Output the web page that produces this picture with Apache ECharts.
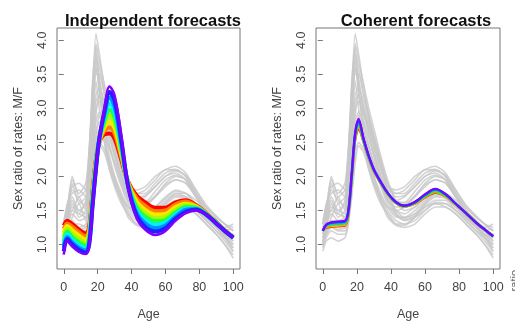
<!DOCTYPE html>
<html>
<head>
<meta charset="utf-8">
<script src="https://cdn.jsdelivr.net/npm/echarts@6/dist/echarts.min.js"></script>
<style>
  html, body { margin: 0; padding: 0; background: #fff; }
  #chart { width: 515px; height: 326px; }
</style>
</head>
<body>
<div id="chart"></div>
<script>
const ages = [0, 2, 5, 9, 13, 15, 17, 19, 21, 24, 27, 30, 34, 38, 43, 48, 54, 60, 66, 72, 78, 84, 90, 95, 100];
const xTicks = [0, 20, 40, 60, 80, 100];
const yTicks = [1, 1.5, 2, 2.5, 3, 3.5, 4];

// observed sex ratios (grey), same in both panels
const grayLines = [
  [1.2, 1.4, 1.7, 1.5, 1.6, 2.2, 3.3, 4.1, 3.8, 3.3, 2.9, 2.6, 2.2, 1.8, 1.5, 1.4, 1.45, 1.55, 1.6, 1.55, 1.45, 1.3, 1.15, 1.0, 0.8],
  [1.1, 1.3, 1.9, 1.6, 1.7, 2.3, 3.2, 3.8, 3.6, 3.2, 2.85, 2.5, 2.1, 1.75, 1.45, 1.35, 1.4, 1.5, 1.62, 1.6, 1.5, 1.35, 1.2, 1.05, 0.9],
  [1.25, 1.5, 2.0, 1.7, 1.8, 2.4, 3.1, 3.6, 3.4, 3.0, 2.7, 2.4, 2.0, 1.7, 1.5, 1.45, 1.55, 1.7, 1.8, 1.75, 1.6, 1.45, 1.3, 1.15, 1.0],
  [1.0, 1.25, 1.6, 1.4, 1.5, 2.0, 2.9, 3.5, 3.5, 3.2, 2.9, 2.6, 2.25, 1.9, 1.65, 1.6, 1.7, 1.85, 1.95, 1.9, 1.7, 1.5, 1.35, 1.2, 1.05],
  [1.3, 1.45, 1.5, 1.7, 1.5, 1.9, 2.6, 3.2, 3.3, 3.1, 2.8, 2.55, 2.2, 1.9, 1.75, 1.75, 1.9, 2.05, 2.1, 2.0, 1.75, 1.5, 1.3, 1.2, 1.1],
  [1.15, 1.3, 1.45, 1.35, 1.4, 1.7, 2.4, 3.0, 3.1, 2.9, 2.7, 2.45, 2.1, 1.85, 1.8, 1.85, 2.0, 2.1, 2.15, 2.05, 1.8, 1.55, 1.4, 1.3, 1.2],
  [1.05, 1.2, 1.35, 1.25, 1.3, 1.6, 2.2, 2.8, 2.95, 2.8, 2.55, 2.3, 2.0, 1.8, 1.75, 1.8, 1.95, 2.1, 2.1, 2.0, 1.75, 1.55, 1.4, 1.3, 1.25],
  [1.2, 1.25, 1.3, 1.3, 1.25, 1.5, 2.0, 2.5, 2.7, 2.6, 2.4, 2.2, 1.9, 1.7, 1.65, 1.7, 1.85, 2.0, 2.05, 1.95, 1.7, 1.5, 1.35, 1.25, 1.3],
  [0.95, 1.1, 1.2, 1.15, 1.15, 1.35, 1.8, 2.3, 2.5, 2.4, 2.2, 2.0, 1.75, 1.55, 1.4, 1.4, 1.5, 1.65, 1.75, 1.7, 1.55, 1.4, 1.25, 1.15, 1.1],
  [1.1, 1.15, 1.25, 1.2, 1.2, 1.4, 1.9, 2.6, 2.9, 2.5, 2.1, 1.85, 1.6, 1.45, 1.3, 1.28, 1.4, 1.55, 1.65, 1.65, 1.5, 1.35, 1.2, 1.1, 1.0],
  [1.3, 1.6, 1.75, 1.8, 1.7, 2.1, 2.9, 3.6, 3.3, 2.7, 2.3, 2.0, 1.7, 1.5, 1.35, 1.3, 1.35, 1.5, 1.6, 1.6, 1.5, 1.38, 1.25, 1.15, 1.05],
  [1.0, 1.35, 1.55, 1.5, 1.45, 1.8, 2.7, 3.4, 3.0, 2.5, 2.2, 1.9, 1.65, 1.4, 1.28, 1.25, 1.3, 1.45, 1.55, 1.55, 1.45, 1.3, 1.15, 1.0, 0.85],
  [1.35, 1.55, 1.85, 1.9, 1.8, 2.3, 3.4, 3.9, 3.3, 2.6, 2.2, 1.95, 1.7, 1.55, 1.5, 1.55, 1.7, 1.9, 2.0, 1.95, 1.7, 1.45, 1.3, 1.2, 1.15],
  [0.9, 1.05, 1.1, 1.05, 1.1, 1.3, 1.7, 2.2, 2.45, 2.35, 2.1, 1.9, 1.65, 1.45, 1.3, 1.3, 1.4, 1.6, 1.75, 1.75, 1.65, 1.5, 1.3, 1.2, 1.15],
  [1.15, 1.45, 1.8, 1.65, 1.55, 2.0, 3.0, 3.75, 3.45, 2.95, 2.6, 2.3, 1.95, 1.65, 1.45, 1.38, 1.45, 1.62, 1.72, 1.7, 1.58, 1.42, 1.28, 1.12, 0.95],
  [1.05, 1.2, 1.4, 1.6, 1.35, 1.65, 2.3, 2.9, 3.2, 3.0, 2.75, 2.5, 2.15, 1.85, 1.7, 1.72, 1.85, 2.0, 2.08, 2.02, 1.8, 1.58, 1.42, 1.3, 1.2],
  [1.25, 1.35, 1.65, 1.45, 1.65, 2.1, 3.0, 3.95, 3.7, 3.35, 3.0, 2.7, 2.3, 1.95, 1.62, 1.5, 1.55, 1.68, 1.78, 1.75, 1.6, 1.42, 1.25, 1.1, 0.9],
  [0.98, 1.15, 1.28, 1.22, 1.25, 1.45, 2.0, 2.65, 2.8, 2.65, 2.45, 2.2, 1.9, 1.65, 1.55, 1.58, 1.72, 1.88, 1.95, 1.9, 1.7, 1.5, 1.32, 1.22, 1.22],
  [1.3, 1.5, 1.95, 1.75, 1.9, 2.4, 3.3, 3.7, 3.2, 2.8, 2.45, 2.15, 1.85, 1.6, 1.42, 1.36, 1.42, 1.58, 1.7, 1.68, 1.55, 1.4, 1.25, 1.1, 0.95],
  [1.1, 1.25, 1.5, 1.45, 1.4, 1.75, 2.5, 3.1, 3.2, 2.95, 2.65, 2.35, 2.0, 1.75, 1.62, 1.62, 1.78, 1.95, 2.02, 1.95, 1.72, 1.5, 1.35, 1.22, 1.12]
];

// independent forecasts, first (red) to last (purple) horizon
const indepLines = [
  [1.28, 1.35, 1.30, 1.22, 1.16, 1.26, 1.78, 2.25, 2.50, 2.62, 2.63, 2.55, 2.24, 1.92, 1.72, 1.62, 1.54, 1.54, 1.62, 1.65, 1.58, 1.46, 1.33, 1.21, 1.11],
  [1.23, 1.31, 1.26, 1.18, 1.12, 1.22, 1.75, 2.23, 2.51, 2.67, 2.72, 2.63, 2.28, 1.91, 1.68, 1.57, 1.49, 1.50, 1.59, 1.63, 1.57, 1.46, 1.33, 1.21, 1.11],
  [1.17, 1.27, 1.21, 1.13, 1.07, 1.18, 1.72, 2.21, 2.52, 2.72, 2.80, 2.71, 2.32, 1.90, 1.63, 1.51, 1.44, 1.45, 1.55, 1.60, 1.56, 1.45, 1.32, 1.21, 1.11],
  [1.11, 1.23, 1.16, 1.08, 1.02, 1.14, 1.69, 2.19, 2.53, 2.77, 2.89, 2.79, 2.36, 1.89, 1.58, 1.46, 1.39, 1.41, 1.51, 1.58, 1.55, 1.45, 1.32, 1.20, 1.10],
  [1.05, 1.19, 1.11, 1.03, 0.98, 1.10, 1.66, 2.17, 2.54, 2.82, 2.98, 2.87, 2.40, 1.88, 1.54, 1.41, 1.34, 1.36, 1.47, 1.55, 1.54, 1.45, 1.32, 1.20, 1.10],
  [1.00, 1.15, 1.07, 0.99, 0.94, 1.06, 1.63, 2.15, 2.55, 2.87, 3.07, 2.95, 2.44, 1.87, 1.50, 1.36, 1.29, 1.32, 1.44, 1.53, 1.53, 1.44, 1.32, 1.20, 1.10],
  [0.95, 1.11, 1.03, 0.95, 0.91, 1.03, 1.60, 2.13, 2.56, 2.92, 3.16, 3.03, 2.48, 1.86, 1.46, 1.31, 1.24, 1.28, 1.41, 1.51, 1.52, 1.44, 1.31, 1.20, 1.10],
  [0.90, 1.08, 1.00, 0.92, 0.88, 1.00, 1.57, 2.11, 2.56, 2.96, 3.24, 3.11, 2.53, 1.85, 1.42, 1.26, 1.19, 1.24, 1.38, 1.48, 1.51, 1.44, 1.31, 1.20, 1.10],
  [0.85, 1.05, 0.97, 0.89, 0.86, 0.98, 1.54, 2.09, 2.55, 3.00, 3.32, 3.19, 2.58, 1.84, 1.39, 1.22, 1.14, 1.20, 1.35, 1.46, 1.50, 1.44, 1.31, 1.20, 1.10]
];

// coherent forecasts, first (red) to last (purple) horizon
const cohLines = [
  [1.21, 1.25, 1.26, 1.27, 1.28, 1.45, 2.00, 2.55, 2.70, 2.50, 2.27, 2.08, 1.90, 1.75, 1.61, 1.56, 1.60, 1.69, 1.76, 1.71, 1.59, 1.46, 1.32, 1.22, 1.12],
  [1.21, 1.26, 1.27, 1.28, 1.29, 1.46, 2.01, 2.57, 2.73, 2.51, 2.28, 2.08, 1.90, 1.75, 1.61, 1.56, 1.60, 1.70, 1.77, 1.71, 1.59, 1.46, 1.32, 1.22, 1.12],
  [1.20, 1.27, 1.29, 1.30, 1.31, 1.47, 2.02, 2.59, 2.76, 2.52, 2.28, 2.09, 1.91, 1.75, 1.61, 1.56, 1.61, 1.71, 1.78, 1.72, 1.59, 1.46, 1.32, 1.22, 1.12],
  [1.20, 1.28, 1.30, 1.31, 1.32, 1.48, 2.03, 2.61, 2.79, 2.53, 2.29, 2.09, 1.91, 1.76, 1.62, 1.57, 1.62, 1.72, 1.80, 1.73, 1.60, 1.46, 1.32, 1.22, 1.12],
  [1.20, 1.29, 1.32, 1.33, 1.34, 1.49, 2.04, 2.63, 2.82, 2.54, 2.30, 2.10, 1.92, 1.76, 1.62, 1.57, 1.62, 1.73, 1.81, 1.74, 1.60, 1.46, 1.32, 1.22, 1.12],
  [1.20, 1.29, 1.33, 1.34, 1.35, 1.50, 2.05, 2.65, 2.85, 2.55, 2.30, 2.10, 1.92, 1.76, 1.62, 1.57, 1.63, 1.74, 1.82, 1.74, 1.60, 1.46, 1.32, 1.22, 1.12]
];

const indepColors = ['#ff0000', '#ff8000', '#ffe600', '#a0ff00', '#20ff40', '#00f0ff', '#0090ff', '#2020ff', '#8000ff'];
const cohColors = ['#ff2000', '#ffb000', '#60e000', '#00d0d0', '#2040ff', '#8000ff'];

const font = 'Liberation Sans, Arial, sans-serif';

const chart = echarts.init(document.getElementById('chart'));

function toPoints(vals) {
  return vals.map((v, i) => [ages[i], v]);
}

function grayFor(idx) {
  return grayLines.map(vals => ({
    type: 'line', xAxisIndex: idx, yAxisIndex: idx, data: toPoints(vals),
    showSymbol: false, smooth: 0.2, silent: true,
    lineStyle: { color: '#c8c8c8', width: 1.6, opacity: 0.8 }
  }));
}

// the last horizon sits on top, so it gets a thinner stroke to keep the band balanced
function bandFor(idx, lines, colors, width, lastWidth) {
  return lines.map((vals, k) => ({
    type: 'line', xAxisIndex: idx, yAxisIndex: idx, data: toPoints(vals),
    showSymbol: false, smooth: 0.35, silent: true,
    lineStyle: { color: colors[k], width: k === lines.length - 1 ? lastWidth : width }
  }));
}

function xAxisFor(idx) {
  return {
    type: 'value', gridIndex: idx, min: -4, max: 104,
    name: 'Age', nameLocation: 'middle', nameGap: 39,
    nameTextStyle: { fontFamily: font, fontSize: 12.5, color: '#444' },
    axisLine: { show: false },
    axisTick: { show: true, length: 5, customValues: xTicks, lineStyle: { color: '#777' } },
    axisLabel: { customValues: xTicks, margin: 12, fontFamily: font, fontSize: 12.5, color: '#444' },
    splitLine: { show: false }
  };
}

function yAxisFor(idx) {
  return {
    type: 'value', gridIndex: idx, min: 0.64, max: 4.18,
    name: 'Sex ratio of rates: M/F', nameLocation: 'middle', nameGap: 32,
    nameTextStyle: { fontFamily: font, fontSize: 12.5, color: '#444' },
    axisLine: { show: false },
    axisTick: { show: true, length: 5, customValues: yTicks, lineStyle: { color: '#777' } },
    axisLabel: {
      customValues: yTicks, rotate: 90, margin: 8, fontFamily: font, fontSize: 12.5, color: '#444',
      formatter: v => v.toFixed(1)
    },
    splitLine: { show: false }
  };
}

chart.setOption({
  animation: false,
  title: [
    { text: 'Independent forecasts', left: 148, top: 8, textAlign: 'center',
      textStyle: { fontFamily: font, fontSize: 16.5, fontWeight: 'bold', color: '#111' } },
    { text: 'Coherent forecasts', left: 411, top: 8, textAlign: 'center',
      textStyle: { fontFamily: font, fontSize: 16.5, fontWeight: 'bold', color: '#111' } }
  ],
  grid: [
    { left: 57, top: 28, width: 183, height: 247, show: true, borderColor: '#777', borderWidth: 1 },
    { left: 316, top: 28, width: 184, height: 247, show: true, borderColor: '#777', borderWidth: 1 }
  ],
  xAxis: [xAxisFor(0), xAxisFor(1)],
  yAxis: [yAxisFor(0), yAxisFor(1)],
  graphic: [
    { type: 'text', left: 509, top: 270, rotation: Math.PI / 2,
      style: { text: 'ratio', fontFamily: font, fontSize: 11, fill: '#666' } }
  ],
  series: [].concat(
    grayFor(0), bandFor(0, indepLines, indepColors, 4, 2.5),
    grayFor(1), bandFor(1, cohLines, cohColors, 2.5, 1.8)
  )
});
</script>
</body>
</html>
